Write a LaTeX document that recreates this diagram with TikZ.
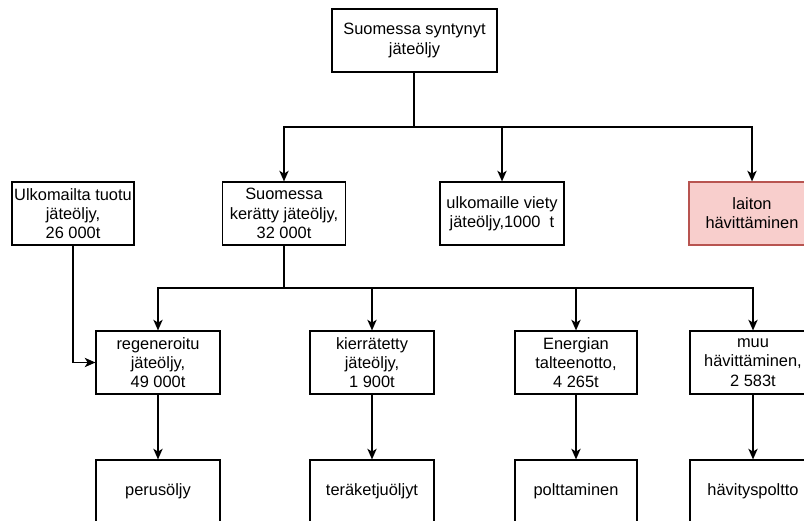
\documentclass[tikz,border=0pt]{standalone}
\usepackage{fontspec}
\setmainfont{Liberation Sans}
\usetikzlibrary{arrows.meta}
\definecolor{laitonfill}{HTML}{F8CECC}
\definecolor{laitondraw}{HTML}{B85450}

\begin{document}
\begin{tikzpicture}[x=0.75pt, y=-0.75pt,
		box/.style={draw=black, fill=white, line width=0.9pt, align=center, inner sep=0pt,
			minimum height=47.25pt, font=\fontsize{12.3}{14.4}\selectfont},
		pink/.style={box, draw=laitondraw, fill=laitonfill},
		arr/.style={line width=1pt, -{Stealth[length=8pt, width=7pt, inset=2.2pt]}},
		ln/.style={line width=1pt}]
			%%%%% START %%%%%
			
			\useasboundingbox (0, 0) rectangle (804, 521);
			
			\node[box, minimum width=123.75pt] (synt) at (414.5, 40.5) {Suomessa syntynyt\\jäteöljy};
			
			\node[box, minimum width=91.5pt] (ulko) at (73, 213.5) {Ulkomailta tuotu\\jäteöljy,\\26 000t};
			\node[box, minimum width=92.25pt] (kerat) at (284, 213.5) {Suomessa\\kerätty jäteöljy,\\32 000t};
			\node[box, minimum width=93pt] (vienti) at (502, 213.5) {ulkomaille viety\\jäteöljy,1000\ \ t};
			\node[pink, minimum width=94.5pt] (laiton) at (752, 213.5) {laiton\\hävittäminen};
			
			\node[box, minimum width=93pt] (regen) at (158, 362.5) {regeneroitu\\jäteöljy,\\49 000t};
			\node[box, minimum width=93pt] (kierr) at (372, 362.5) {kierrätetty\\jäteöljy,\\1 900t};
			\node[box, minimum width=91.5pt] (energ) at (576, 362.5) {Energian\\talteenotto,\\4 265t};
			\node[box, minimum width=94.5pt] (muu) at (753, 362.5) {muu\\hävittäminen,\\2 583t};
			
			\node[box, minimum width=93pt] (perus) at (158, 491.5) {perusöljy};
			\node[box, minimum width=93pt] (tera) at (372, 491.5) {teräketjuöljyt};
			\node[box, minimum width=91.5pt] (poltto) at (576, 491.5) {polttaminen};
			\node[box, minimum width=94.5pt] (havpol) at (753, 491.5) {hävityspoltto};
			
			\coordinate (jako1) at (414, 127);
			\coordinate (jako2) at (284, 288);
			
			\draw[ln] (synt.south -| jako1) -- (jako1);
			\draw[arr] (jako1) -| (kerat.north);
			\draw[arr] (jako1) -| (vienti.north);
			\draw[arr] (jako1) -| (laiton.north);
			
			\draw[ln] (kerat.south) -- (jako2);
			\draw[arr] (jako2) -| (regen.north);
			\draw[arr] (jako2) -| (kierr.north);
			\draw[arr] (jako2) -| (energ.north);
			\draw[arr] (jako2) -| (muu.north);
			
			\draw[arr] (ulko.south) |- (regen.west);
			
			\draw[arr] (regen) -- (perus);
			\draw[arr] (kierr) -- (tera);
			\draw[arr] (energ) -- (poltto);
			\draw[arr] (muu) -- (havpol);
			
			%%%%% END %%%%%
		\end{tikzpicture}
\end{document}
